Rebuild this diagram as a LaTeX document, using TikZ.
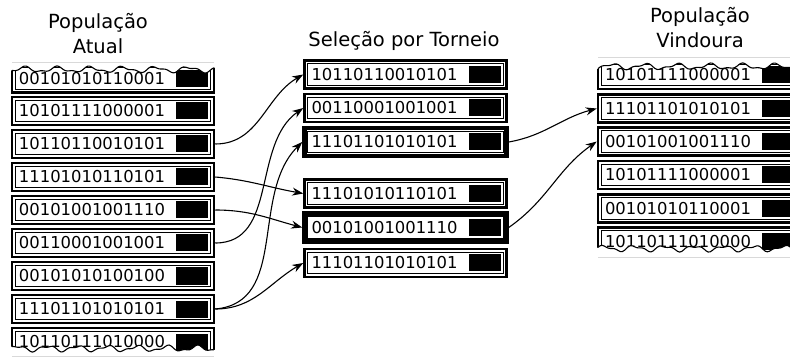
\documentclass[tikz,border=0pt]{standalone}
\usepackage{fontspec}
\setmainfont{DejaVu Sans}
\usetikzlibrary{arrows.meta}
\begin{document}
\begin{tikzpicture}[x=1pt,y=-1pt,
  chrom/.style={draw, line width=#1, minimum width=202pt, minimum height=28pt,
    inner xsep=7pt, inner ysep=0pt, text width=188pt, align=left,
    font=\fontsize{16.4}{18}\selectfont,
    path picture={
      \draw[line width=1pt]
        ([shift={(3.4pt,-3.4pt)}]path picture bounding box.north west) rectangle
        ([shift={(-3.4pt,3.4pt)}]path picture bounding box.south east);
      \fill
        ([shift={(-38pt,-5.5pt)}]path picture bounding box.north east) rectangle
        ([shift={(-6pt,5.5pt)}]path picture bounding box.south east);
    }},
  chrom/.default=2.5pt,
  title/.style={align=center, font=\fontsize{19.5}{25}\selectfont, inner sep=0pt},
  conn/.style={-{Stealth[length=11pt,width=8pt]}, line width=1.1pt},
  tear/.style={line width=1.1pt},
  faint/.style={black!15, line width=0.8pt}]

\useasboundingbox (0,0) rectangle (790,358);
\clip (0,0) rectangle (790,358);

% column titles
\node[title] (tL) at (98,34) {População\\Atual};
\node[title] (tS) at (404,41) {Seleção por Torneio};
\node[title] (tR) at (700,28) {População\\Vindoura};

% current population
\node[chrom] (L1) at (113,78.5) {00101010110001};
\node[chrom] (L2) at (113,111)  {10101111000001};
\node[chrom] (L3) at (113,144)  {10110110010101};
\node[chrom] (L4) at (113,177)  {11101010110101};
\node[chrom] (L5) at (113,210)  {00101001001110};
\node[chrom] (L6) at (113,243)  {00110001001001};
\node[chrom] (L7) at (113,276)  {00101010100100};
\node[chrom] (L8) at (113,309)  {11101101010101};
\node[chrom] (L9) at (113,342)  {10110111010000};

% tournament selection
\node[chrom]      (S1) at (405.5,74.5) {10110110010101};
\node[chrom]      (S2) at (405.5,108)  {00110001001001};
\node[chrom=4.5pt](S3) at (405.5,142)  {11101101010101};
\node[chrom]      (S4) at (405.5,193.5){11101010110101};
\node[chrom=4.5pt](S5) at (405.5,227.5){00101001001110};
\node[chrom]      (S6) at (405.5,263)  {11101101010101};

% next population
\node[chrom] (R1) at (699,75)    {10101111000001};
\node[chrom] (R2) at (699,108.5) {11101101010101};
\node[chrom] (R3) at (699,141.5) {00101001001110};
\node[chrom] (R4) at (699,175)   {10101111000001};
\node[chrom] (R5) at (699,208.5) {00101010110001};
\node[chrom] (R6) at (699,241.5) {10110111010000};

% torn edges of the lists
\fill[white] (8,60) -- plot[domain=8:218,samples=100] (\x,{69.5+2.4*sin(\x*11)+1.2*sin(\x*23+40)}) -- (218,60) -- cycle;
\draw[tear] plot[domain=12:214,samples=100] (\x,{69.5+2.4*sin(\x*11)+1.2*sin(\x*23+40)});
\draw[faint] (12,62) -- (214,62);

\fill[white] (8,362) -- plot[domain=8:218,samples=100] (\x,{348.5+2.4*sin(\x*12+60)+1.2*sin(\x*25)}) -- (218,362) -- cycle;
\draw[tear] plot[domain=12:214,samples=100] (\x,{348.5+2.4*sin(\x*12+60)+1.2*sin(\x*25)});
\draw[faint] (12,356) -- (214,356);

\fill[white] (594,55) -- plot[domain=594:800,samples=100] (\x,{66.5+2.4*sin((\x-590)*11+30)+1.2*sin((\x-590)*23)}) -- (800,55) -- cycle;
\draw[tear] plot[domain=598:800,samples=100] (\x,{66.5+2.4*sin((\x-590)*11+30)+1.2*sin((\x-590)*23)});
\draw[faint] (598,57) -- (800,57);

\fill[white] (594,266) -- plot[domain=594:800,samples=100] (\x,{248.5+2.4*sin((\x-590)*12+100)+1.2*sin((\x-590)*25)}) -- (800,266) -- cycle;
\draw[tear] plot[domain=598:800,samples=100] (\x,{248.5+2.4*sin((\x-590)*12+100)+1.2*sin((\x-590)*25)});
\draw[faint] (598,257) -- (800,257);

% tournament picks
\draw[conn] (L3.east) to[out=0,in=210] (S1.west);
\draw[conn] (L6.east) to[out=0,in=215] (S2.west);
\draw[conn] (L8.east) to[out=5,in=225] (S3.west);
\draw[conn] (L4.east) to[out=-5,in=170] (S4.west);
\draw[conn] (L5.east) to[out=0,in=165] (S5.west);
\draw[conn] (L8.east) to[out=0,in=210] (S6.west);

% winners carried over
\draw[conn] (S3.east) to[out=10,in=195] (R2.west);
\draw[conn] (S5.east) to[out=35,in=215] (R3.west);
\end{tikzpicture}
\end{document}
